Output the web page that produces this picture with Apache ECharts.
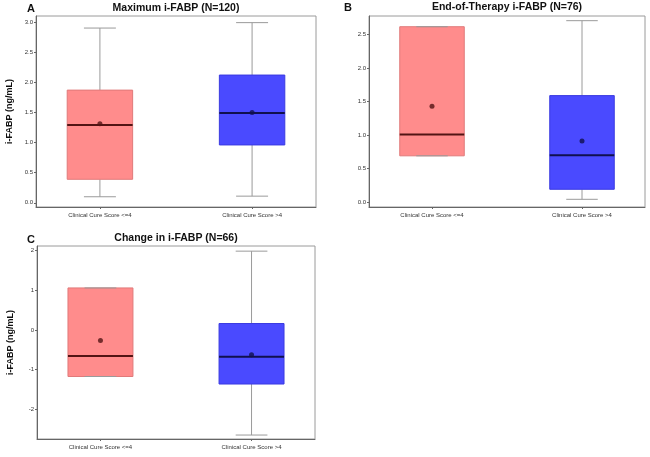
<!DOCTYPE html>
<html>
<head>
<meta charset="utf-8">
<script src="https://cdn.jsdelivr.net/npm/echarts@6/dist/echarts.min.js"></script>
<style>
  html, body { margin: 0; padding: 0; background: #fff; }
  #main { width: 650px; height: 457px; }
</style>
</head>
<body>
<div id="main"></div>
<script>
// groups on the x axis
const categories = ['Clinical Cure Score <=4', 'Clinical Cure Score >4']

// [min, Q1, median, Q3, max] per group
const maxStats = [[0.10, 0.39, 1.29, 1.87, 2.90], [0.11, 0.96, 1.49, 2.12, 2.99]]
const maxMeans = [1.31, 1.50]
const endStats = [[0.69, 0.69, 1.01, 2.62, 2.62], [0.04, 0.19, 0.70, 1.59, 2.71]]
const endMeans = [1.43, 0.91]
const changeStats = [[-1.18, -1.18, -0.66, 1.06, 1.06], [-2.66, -1.37, -0.68, 0.16, 1.99]]
const changeMeans = [-0.27, -0.63]

// tick labels
const maxTicks = [0, 0.5, 1, 1.5, 2, 2.5, 3]
const endTicks = [0, 0.5, 1, 1.5, 2, 2.5]
const changeTicks = [-2, -1, 0, 1, 2]

const FONT = '"Liberation Sans", Arial, sans-serif'
const fills = ['#ff8c8c', '#4a4aff']
const borders = ['#e07a7a', '#3a3ae0']
const darks = ['#521414', '#10104e']

function boxItem(params, api) {
  const i = params.dataIndex
  const x = api.value(0)
  const pMin = api.coord([x, api.value(1)])
  const pQ1 = api.coord([x, api.value(2)])
  const pMed = api.coord([x, api.value(3)])
  const pQ3 = api.coord([x, api.value(4)])
  const pMax = api.coord([x, api.value(5)])
  const bw = api.size([0.43, 0])[0]
  const cw = api.size([0.21, 0])[0]
  const grey = { stroke: '#9a9a9a', lineWidth: 1 }
  return {
    type: 'group',
    children: [
      { type: 'line', shape: { x1: pMax[0], y1: pMax[1], x2: pQ3[0], y2: pQ3[1] }, style: grey },
      { type: 'line', shape: { x1: pQ1[0], y1: pQ1[1], x2: pMin[0], y2: pMin[1] }, style: grey },
      {
        type: 'rect',
        shape: { x: pQ3[0] - bw / 2, y: pQ3[1], width: bw, height: pQ1[1] - pQ3[1] },
        style: { fill: fills[i], stroke: borders[i], lineWidth: 1 },
      },
      { type: 'line', shape: { x1: pMax[0] - cw / 2, y1: pMax[1], x2: pMax[0] + cw / 2, y2: pMax[1] }, style: grey },
      { type: 'line', shape: { x1: pMin[0] - cw / 2, y1: pMin[1], x2: pMin[0] + cw / 2, y2: pMin[1] }, style: grey },
      {
        type: 'line',
        shape: { x1: pMed[0] - bw / 2, y1: pMed[1], x2: pMed[0] + bw / 2, y2: pMed[1] },
        style: { stroke: darks[i], lineWidth: 2 },
      },
    ],
  }
}

const panels = [
  { grid: { left: 36, right: 334, top: 16, bottom: 250 }, yMin: -0.07, yMax: 3.10, ticks: maxTicks, digits: 1, stats: maxStats, means: maxMeans, yName: 'i-FABP (ng/mL)' },
  { grid: { left: 369, right: 5, top: 16, bottom: 250 }, yMin: -0.075, yMax: 2.78, ticks: endTicks, digits: 1, stats: endStats, means: endMeans, yName: '' },
  { grid: { left: 37, right: 335, top: 246, bottom: 18 }, yMin: -2.76, yMax: 2.12, ticks: changeTicks, digits: 0, stats: changeStats, means: changeMeans, yName: 'i-FABP (ng/mL)' },
]

const grids = []
const xAxes = []
const yAxes = []
const series = []
panels.forEach((p, k) => {
  grids.push(Object.assign({ show: true, borderColor: '#9a9a9a', borderWidth: 1, backgroundColor: '#fff' }, p.grid))
  xAxes.push({
    type: 'value',
    gridIndex: k,
    min: 0.58,
    max: 2.42,
    splitLine: { show: false },
    axisLine: { onZero: false, lineStyle: { color: '#666' } },
    axisTick: { customValues: [1, 2], length: 2, lineStyle: { color: '#666' } },
    axisLabel: {
      customValues: [1, 2],
      formatter: v => categories[Math.round(v) - 1],
      fontSize: 6,
      color: '#333',
      fontFamily: FONT,
      margin: 5,
    },
  })
  yAxes.push({
    type: 'value',
    gridIndex: k,
    min: p.yMin,
    max: p.yMax,
    name: p.yName,
    nameLocation: 'middle',
    nameGap: 22,
    nameTextStyle: { fontSize: 9, fontWeight: 'bold', color: '#111', fontFamily: FONT },
    splitLine: { show: false },
    axisLine: { show: true, onZero: false, lineStyle: { color: '#666' } },
    axisTick: { show: true, customValues: p.ticks, length: 2, lineStyle: { color: '#666' } },
    axisLabel: {
      customValues: p.ticks,
      formatter: v => v.toFixed(p.digits),
      fontSize: 6,
      color: '#333',
      fontFamily: FONT,
      margin: 3,
    },
  })
  series.push({
    type: 'custom',
    xAxisIndex: k,
    yAxisIndex: k,
    renderItem: boxItem,
    encode: { x: 0, y: [1, 2, 3, 4, 5] },
    data: p.stats.map((s, i) => [i + 1].concat(s)),
    z: 2,
  })
  series.push({
    type: 'scatter',
    xAxisIndex: k,
    yAxisIndex: k,
    symbolSize: 5,
    data: p.means.map((m, i) => ({ value: [i + 1, m], itemStyle: { color: darks[i] } })),
    z: 3,
  })
})

const titleStyle = { fontSize: 10.5, fontWeight: 'bold', color: '#111', fontFamily: FONT }
const letterStyle = { fontSize: 11, fontWeight: 'bold', color: '#111', fontFamily: FONT }

const chart = echarts.init(document.getElementById('main'), null, { renderer: 'canvas' })
chart.setOption({
  animation: false,
  backgroundColor: '#fff',
  title: [
    { text: 'Maximum i-FABP (N=120)', left: 176, top: 3, textAlign: 'center', padding: 0, textStyle: titleStyle },
    { text: 'End-of-Therapy i-FABP (N=76)', left: 507, top: 2, textAlign: 'center', padding: 0, textStyle: titleStyle },
    { text: 'Change in i-FABP (N=66)', left: 176, top: 233, textAlign: 'center', padding: 0, textStyle: titleStyle },
    { text: 'A', left: 27, top: 3, padding: 0, textStyle: letterStyle },
    { text: 'B', left: 344, top: 2, padding: 0, textStyle: letterStyle },
    { text: 'C', left: 27, top: 234, padding: 0, textStyle: letterStyle },
  ],
  grid: grids,
  xAxis: xAxes,
  yAxis: yAxes,
  series: series,
})
</script>
</body>
</html>
